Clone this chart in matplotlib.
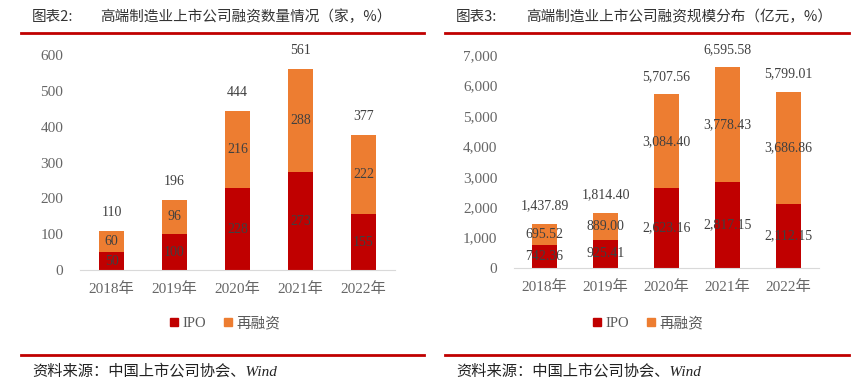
import numpy as np
import matplotlib
matplotlib.use("Agg")
import matplotlib.pyplot as plt
from matplotlib.lines import Line2D
from matplotlib.font_manager import FontProperties

# data
years = ['2018年', '2019年', '2020年', '2021年', '2022年']
ipo_count = [50, 100, 228, 273, 155]
refin_count = [60, 96, 216, 288, 222]
total_count = [110, 196, 444, 561, 377]
ipo_amount = [742.36, 925.41, 2623.16, 2817.15, 2112.15]
refin_amount = [695.52, 889.00, 3084.40, 3778.43, 3686.86]
total_amount = [1437.89, 1814.40, 5707.56, 6595.58, 5799.01]

red = '#C00000'
orange = '#ED7D31'
grey = '#595959'
lab = '#404040'
fam = ['Liberation Serif', 'Noto Sans CJK SC']
cjk = ['Noto Sans CJK SC']

plt.rcParams['font.family'] = fam

fig = plt.figure(figsize=(8.68, 3.89), dpi=100)
W, H = 868, 389


def fx(px):
    return px / W


def fy(py):
    return 1 - py / H


def panel(rect, ipo, refin, total, ymax, step, fmt, tag, title, tx, ttx, line_x, leg_x):
    ax = fig.add_axes(rect)
    x = np.arange(len(years))
    ax.bar(x, ipo, 0.4, color=red, label='IPO')
    ax.bar(x, refin, 0.4, bottom=ipo, color=orange, label='再融资')
    off = ymax * 0.085
    for i in range(len(years)):
        ax.text(x[i], ipo[i] / 2, fmt(ipo[i]), ha='center', va='center', fontsize=10, color=lab)
        ax.text(x[i], ipo[i] + refin[i] / 2, fmt(refin[i]), ha='center', va='center', fontsize=10, color=lab)
        ax.text(x[i], total[i] + off, fmt(total[i]), ha='center', va='center', fontsize=10, color=lab)
    ax.set_xlim(-0.5, len(years) - 0.5)
    ax.set_ylim(0, ymax)
    ax.set_yticks(np.arange(0, ymax + 1, step))
    ax.set_yticklabels(['{:,}'.format(int(v)) for v in np.arange(0, ymax + 1, step)])
    ax.set_xticks(x)
    ax.set_xticklabels(years)
    for s in ['top', 'right', 'left']:
        ax.spines[s].set_visible(False)
    ax.spines['bottom'].set_color('#D9D9D9')
    ax.tick_params(axis='both', length=0, labelsize=11, labelcolor='#666666')
    ax.tick_params(axis='x', pad=9)
    ax.tick_params(axis='y', pad=12)
    ax.patch.set_alpha(0)

    handles = [Line2D([], [], marker='s', ls='', color=red, markersize=6, label='IPO'),
               Line2D([], [], marker='s', ls='', color=orange, markersize=6, label='再融资')]
    leg = fig.legend(handles=handles, loc='center', bbox_to_anchor=(fx(leg_x), fy(323)),
                     ncol=2, frameon=False, handlelength=0.6, handletextpad=0.25,
                     columnspacing=1.2, prop=FontProperties(family=fam, size=10.5))
    for t in leg.get_texts():
        t.set_color(grey)

    # title and rules
    fig.text(fx(tx), fy(17), tag, fontsize=10.5, color='#333333', va='center', family=cjk)
    fig.text(fx(ttx), fy(17), title, fontsize=10.5, color='#333333', va='center', family=cjk)
    fig.add_artist(Line2D([fx(line_x[0]), fx(line_x[1])], [fy(33), fy(33)], color=red, lw=2))
    fig.add_artist(Line2D([fx(line_x[0]), fx(line_x[1])], [fy(355), fy(355)], color=red, lw=2))
    fig.text(fx(tx), fy(371), '资料来源：中国上市公司协会、Wind', fontsize=11, color='#222222',
             va='center', style='italic', family=fam)
    return ax


panel([fx(80), 1 - 270 / H, fx(315), 215 / H], ipo_count, refin_count, total_count,
      600, 100, lambda v: '{:d}'.format(v), '图表2:', '高端制造业上市公司融资数量情况（家，%）',
      32, 100, (21, 424), 225)
panel([fx(514), 1 - 268 / H, fx(305), 213 / H], ipo_amount, refin_amount, total_amount,
      7000, 1000, lambda v: '{:,.2f}'.format(v), '图表3:', '高端制造业上市公司融资规模分布（亿元，%）',
      456, 526, (445, 849), 648)

fig.savefig('out.png', dpi=100)
